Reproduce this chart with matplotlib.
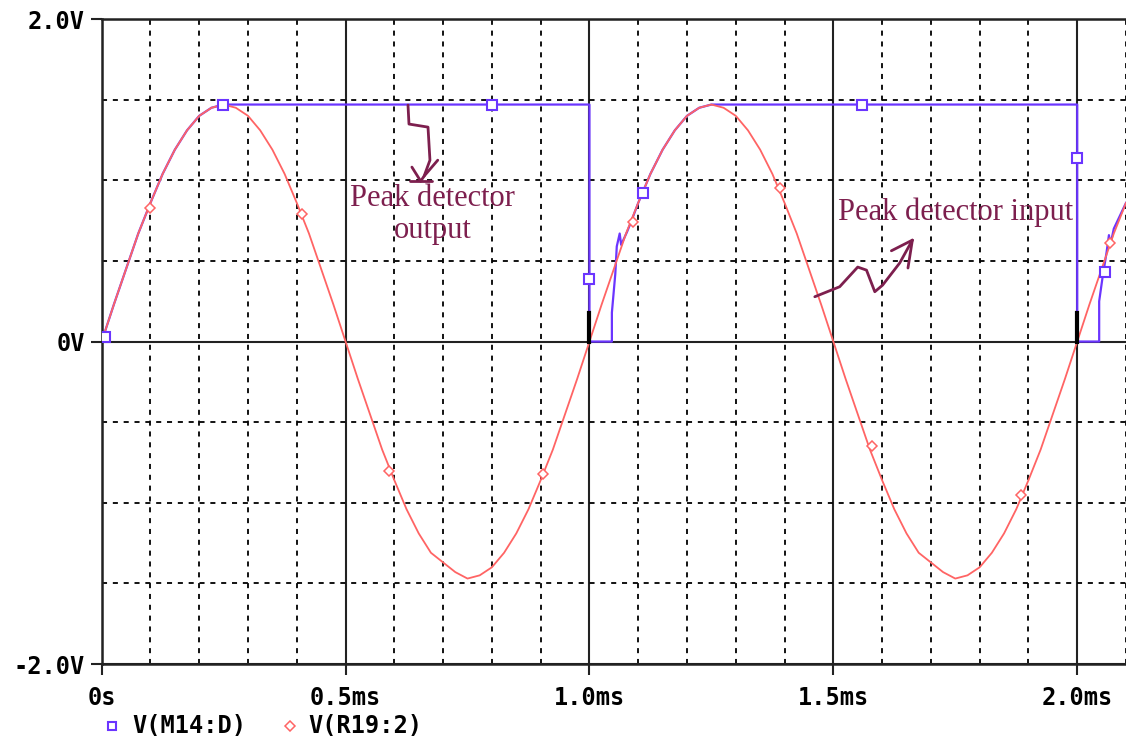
import matplotlib
matplotlib.use('Agg')
import matplotlib.pyplot as plt
from matplotlib.lines import Line2D
import numpy as np

# V(R19:2) - peak detector input, read every 0.025 ms from 0 to 2.1 ms
v_in = [0.00, 0.23, 0.45, 0.67, 0.86, 1.04, 1.19, 1.31, 1.40, 1.45,
        1.47, 1.45, 1.40, 1.31, 1.19, 1.04, 0.86, 0.67, 0.45, 0.23,
        0.00, -0.23, -0.45, -0.67, -0.86, -1.04, -1.19, -1.31, -1.37, -1.43,
        -1.47, -1.45, -1.40, -1.31, -1.19, -1.04, -0.86, -0.67, -0.45, -0.23,
        0.00, 0.23, 0.45, 0.67, 0.86, 1.04, 1.19, 1.31, 1.40, 1.45,
        1.47, 1.45, 1.40, 1.31, 1.19, 1.04, 0.86, 0.67, 0.45, 0.23,
        0.00, -0.23, -0.45, -0.67, -0.86, -1.04, -1.19, -1.31, -1.37, -1.43,
        -1.47, -1.45, -1.40, -1.31, -1.19, -1.04, -0.86, -0.67, -0.45, -0.23,
        0.00, 0.23, 0.45, 0.67, 0.86]
t_in = np.linspace(0, 2.1, len(v_in))
t_in_mk = [0.10, 0.41, 0.59, 0.905, 1.09, 1.39, 1.58, 1.885, 2.068]
v_in_mk = [0.83, 0.79, -0.80, -0.82, 0.74, 0.95, -0.65, -0.95, 0.61]

# V(M14:D) - peak detector output
t_out = [0.00, 0.025, 0.05, 0.075, 0.10, 0.125, 0.15, 0.175, 0.20, 0.225, 0.25,
         1.00, 1.00, 1.046, 1.046, 1.053, 1.056, 1.062, 1.065, 1.077, 1.085,
         1.10, 1.125, 1.15, 1.175, 1.20, 1.225, 1.25,
         2.00, 2.00, 2.045, 2.045, 2.052, 2.060, 2.065, 2.068, 2.075, 2.10]
v_out = [0.00, 0.23, 0.45, 0.67, 0.86, 1.04, 1.19, 1.31, 1.40, 1.45, 1.47,
         1.47, 0.00, 0.00, 0.18, 0.42, 0.59, 0.67, 0.60, 0.68, 0.74,
         0.86, 1.04, 1.19, 1.31, 1.40, 1.45, 1.47,
         1.47, 0.00, 0.00, 0.25, 0.40, 0.55, 0.66, 0.60, 0.70, 0.86]
t_out_mk = [0.007, 0.249, 0.80, 1.00, 1.109, 1.558, 2.00, 2.057]
v_out_mk = [0.03, 1.47, 1.47, 0.39, 0.92, 1.47, 1.14, 0.43]

# short black glitch at each reset
t_glitch = [1.0, 2.0]
v_glitch = 0.18

# hand drawn arrows (data units)
arrow1 = [(0.628, 1.467), (0.630, 1.349), (0.669, 1.330), (0.673, 1.125),
          (0.661, 1.026), (0.654, 0.995)]
arrow1_head = [[(0.636, 1.082), (0.654, 0.995)], [(0.689, 1.125), (0.661, 1.026)],
               [(0.632, 0.995), (0.677, 0.995)]]
arrow2 = [(1.462, 0.278), (1.513, 0.340), (1.550, 0.462), (1.568, 0.443),
          (1.585, 0.309), (1.601, 0.350), (1.636, 0.487), (1.662, 0.629)]
arrow2_head = [[(1.619, 0.563), (1.662, 0.629)], [(1.653, 0.456), (1.662, 0.629)]]

xticks = [0, 0.5, 1.0, 1.5, 2.0]
xlabels = ['0s', '0.5ms', '1.0ms', '1.5ms', '2.0ms']
yticks = [-2, 0, 2]
ylabels = ['-2.0V', '0V', '2.0V']

blue = '#6b35ff'
red = '#ff6464'
maroon = '#7d1f4e'
mono = dict(family='DejaVu Sans Mono', weight='bold', size=17)

fig = plt.figure(figsize=(11.26, 7.43), dpi=100)
ax = fig.add_axes([0.0903, 0.1063, 0.9097, 0.868])
ax.set_xlim(0, 2.1)
ax.set_ylim(-2, 2)

ax.set_xticks(xticks)
ax.set_xticklabels(xlabels, fontdict=mono)
ax.set_xticks(np.arange(0, 2.11, 0.1), minor=True)
ax.set_yticks(yticks)
ax.set_yticklabels(ylabels, fontdict=mono)
ax.set_yticks(np.arange(-2, 2.01, 0.5), minor=True)
ax.tick_params(which='major', direction='out', length=8, width=1.5, color='#222222')
ax.tick_params(axis='x', which='major', pad=8)
ax.tick_params(axis='y', which='major', pad=4)
ax.tick_params(which='minor', length=0)

ax.grid(which='minor', color='black', linestyle=(0, (2.8, 3.2)), linewidth=1.3)
ax.grid(which='major', color='#222222', linestyle='-', linewidth=1.5)
ax.set_axisbelow(True)
for s in ['top', 'left', 'bottom']:
    ax.spines[s].set_linewidth(1.8)
    ax.spines[s].set_color('#222222')
ax.spines['right'].set_visible(False)

ax.plot(t_out, v_out, color=blue, lw=1.6, zorder=3)
ax.plot(t_in, v_in, color=red, lw=1.3, zorder=4)
for tg in t_glitch:
    ax.plot([tg, tg], [0, v_glitch], color='black', lw=3, zorder=5)
ax.plot(t_in_mk, v_in_mk, ls='none', marker='D', ms=5.5, mfc='white', mec=red,
        mew=1.1, zorder=6)
ax.plot(t_out_mk, v_out_mk, ls='none', marker='s', ms=7, mfc='white', mec=blue,
        mew=1.5, zorder=7)

# annotations
ax.text(0.679, 0.79, 'Peak detector\noutput', color=maroon, family='Liberation Serif',
        fontsize=22, ha='center', va='center', linespacing=1.15, zorder=8)
ax.text(1.509, 0.80, 'Peak detector input', color=maroon, family='Liberation Serif',
        fontsize=22, ha='left', va='center', zorder=8)
for path in [arrow1, arrow2] + arrow1_head + arrow2_head:
    xs, ys = zip(*path)
    ax.plot(xs, ys, color=maroon, lw=2, zorder=8, solid_capstyle='round')

# legend below the axis
fig.add_artist(Line2D([112 / 1126], [1 - 726 / 743], transform=fig.transFigure,
                      marker='s', ms=6, mfc='white', mec=blue, mew=1.5, ls='none'))
fig.text(132 / 1126, 1 - 726 / 743, 'V(M14:D)', va='center', ha='left', **mono)
fig.add_artist(Line2D([290 / 1126], [1 - 726 / 743], transform=fig.transFigure,
                      marker='D', ms=5, mfc='white', mec=red, mew=1.1, ls='none'))
fig.text(308 / 1126, 1 - 726 / 743, 'V(R19:2)', va='center', ha='left', **mono)

fig.savefig('out.png', dpi=100)
